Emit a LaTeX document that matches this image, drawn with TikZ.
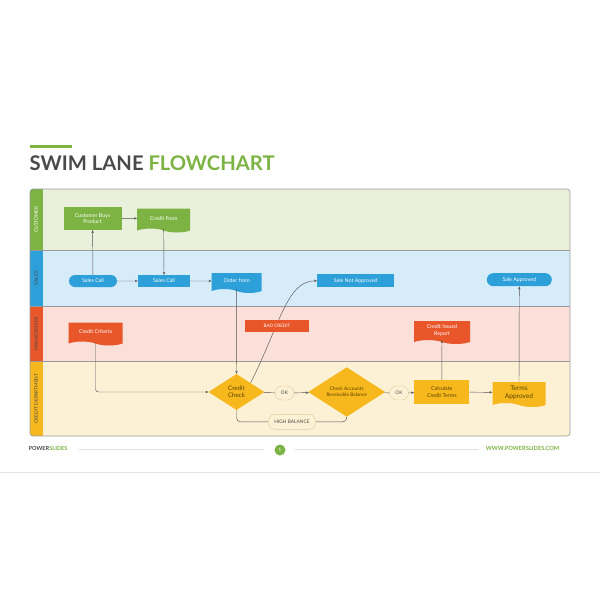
\documentclass[tikz,border=0pt]{standalone}
\usepackage{fontspec}
\setmainfont{Lato}
\usepackage{xcolor}
\usetikzlibrary{arrows.meta,positioning,shapes.geometric,shapes.symbols,shapes.misc}

\definecolor{titlegrey}{HTML}{4A4A4A}
\definecolor{titlegreen}{HTML}{7CB342}
\definecolor{custgreen}{HTML}{7CB342}
\definecolor{custbg}{HTML}{E9F0DC}
\definecolor{salesblue}{HTML}{2D9FD9}
\definecolor{salesbg}{HTML}{D7ECF9}
\definecolor{mgmtred}{HTML}{E8562A}
\definecolor{mgmtbg}{HTML}{FBDFD9}
\definecolor{credyellow}{HTML}{F6B81D}
\definecolor{credbg}{HTML}{FDF1D5}
\definecolor{darktext}{HTML}{5B4400}
\definecolor{lanegrey}{HTML}{9A9A9A}
\definecolor{linkgrey}{HTML}{555555}
\definecolor{pillborder}{HTML}{DCCB9C}
\definecolor{footgrey}{HTML}{E2E2E2}

\newcommand{\boxfont}{\fontsize{5.3}{6.3}\selectfont}
\newcommand{\lanefont}{\fontsize{4.8}{5.5}\selectfont}

\tikzset{
  box/.style={rectangle, inner sep=1pt, align=center, text=white, font=\boxfont},
  docbox/.style={tape, tape bend top=none, tape bend bottom=out and in,
    tape bend height=4pt, inner sep=1pt, align=center, text=white, font=\boxfont},
  stadium/.style={rounded rectangle, inner sep=1pt, align=center, text=white, font=\boxfont},
  decision/.style={diamond, inner sep=0pt, align=center, fill=credyellow,
    text=darktext, font=\fontsize{6.2}{7.2}\selectfont},
  pill/.style={rounded rectangle, draw=pillborder, fill=credbg, inner sep=1pt,
    text=titlegrey, font=\fontsize{4.8}{5.5}\selectfont, minimum height=14pt},
  lanelabel/.style={rotate=90, inner sep=0pt, font=\lanefont},
  flow/.style={->, draw=linkgrey, line width=0.45pt},
  link/.style={draw=linkgrey, line width=0.45pt}
}

\begin{document}
\begin{tikzpicture}[x=1pt, y=-1pt, >={Stealth[length=3pt,width=2.4pt]}]
  \useasboundingbox (0,0) rectangle (600,600);
  \fill[white] (0,0) rectangle (600,600);

  % title
  \draw[titlegreen, line width=2.4pt] (30,146.5) -- (72,146.5);
  \node[anchor=base west, inner sep=0pt, font=\fontsize{20.2}{24}\selectfont\bfseries]
    (title) at (29.5,170) {\textcolor{titlegrey}{SWIM LANE} \textcolor{titlegreen}{FLOWCHART}};

  % lanes
  \begin{scope}
    \clip[rounded corners=3pt] (30,189) rectangle (570,436);
    \fill[custbg] (30,189) rectangle (570,250);
    \fill[salesbg] (30,250) rectangle (570,306.5);
    \fill[mgmtbg] (30,306.5) rectangle (570,361);
    \fill[credbg] (30,361) rectangle (570,436);
    \fill[custgreen] (30,189) rectangle (42.5,250);
    \fill[salesblue] (30,250) rectangle (42.5,306.5);
    \fill[mgmtred] (30,306.5) rectangle (42.5,361);
    \fill[credyellow] (30,361) rectangle (42.5,436);
  \end{scope}
  \draw[lanegrey, line width=0.5pt] (30,250) -- (570,250);
  \draw[lanegrey, line width=0.5pt] (30,306.5) -- (570,306.5);
  \draw[lanegrey, line width=0.5pt] (30,361) -- (570,361);
  \draw[lanegrey, line width=0.6pt, rounded corners=3pt] (30,189) rectangle (570,436);

  \node[lanelabel, text=white] (lcust) at (36.2,219.5) {CUSTOMER};
  \node[lanelabel, text=titlegrey] (lsales) at (36.2,278.2) {SALES};
  \node[lanelabel, text=titlegrey] (lmgmt) at (36.2,333.7) {MANAGEMENT};
  \node[lanelabel, text=titlegrey] (lcred) at (36.2,398.5) {CREDIT DEPARTMENT};

  % customer lane
  \node[box, fill=custgreen, minimum width=58pt, minimum height=23pt] (cbp) at (92.5,218.3)
    {Customer Buys\\Product};
  \node[docbox, fill=custgreen, minimum width=53pt, minimum height=24pt] (cfr) at (163.7,218.5)
    {Credit From};

  % sales lane
  \node[stadium, fill=salesblue, minimum width=50pt, minimum height=12pt] (scs) at (93,281)
    {Sales Call};
  \node[box, fill=salesblue, minimum width=52pt, minimum height=12pt] (scr) at (164,281)
    {Sales Call};
  \node[docbox, fill=salesblue, minimum width=50pt, minimum height=20pt] (ofr) at (236.7,281)
    {Order from};
  \node[box, fill=salesblue, minimum width=77pt, minimum height=13pt] (sna) at (355.7,280.8)
    {Sale Not Approved};
  \node[stadium, fill=salesblue, minimum width=67pt, minimum height=13pt] (sap) at (519.3,279.7)
    {Sale Approved};

  % management lane
  \node[docbox, fill=mgmtred, minimum width=54pt, minimum height=23pt] (ccr) at (95.5,332)
    {Credit Criteria};
  \node[docbox, fill=mgmtred, minimum width=56pt, minimum height=23pt] (cir) at (442,330.5)
    {Credit Issued\\Report};

  % credit department lane
  \node[decision, minimum width=56pt, minimum height=36pt] (cck) at (236.5,392)
    {Credit\\Check};
  \node[pill, minimum width=21pt] (ok1) at (284.5,393) {OK};
  \node[decision, minimum width=77pt, minimum height=46pt, font=\fontsize{4.8}{5.8}\selectfont]
    (car) at (346.7,392) {Check Accounts\\Receivable Balance};
  \node[pill, minimum width=21pt] (ok2) at (399,393) {OK};
  \node[box, fill=credyellow, text=darktext, minimum width=55pt, minimum height=24pt]
    (cct) at (441.8,392) {Calculate\\Credit Terms};
  \node[docbox, fill=credyellow, text=darktext, minimum width=53pt, minimum height=25pt,
    font=\fontsize{6.6}{7.6}\selectfont] (tap) at (519,392.5) {Terms\\Approved};
  \node[pill, minimum width=50pt, minimum height=15pt] (hib) at (292,421.8) {HIGH BALANCE};

  % connectors
  \draw[flow] (scs) -- (cbp);
  \draw[flow] (cbp) -- (cfr);
  \draw[flow] (cfr.south) -- (scr.north);
  \draw[flow] (scs) -- (scr);
  \draw[flow] (scr) -- (ofr);
  \draw[flow] (ofr.south) -- (cck.north);
  \draw[flow, rounded corners=3pt] (ccr.south) |- (cck.west);
  \draw[link] (cck) -- (ok1);
  \draw[flow] (ok1) -- (car);
  \draw[link] (car) -- (ok2);
  \draw[flow] (ok2) -- (cct);
  \draw[flow] (cct) -- (tap);
  \draw[flow] (cct.north) -- (cir.south);
  \draw[flow] (tap.north) -- (sap.south);
  \draw[link, rounded corners=4pt] (cck.south) |- (hib.west);
  \draw[link, rounded corners=4pt] (hib.east) -| (car.south);
  \draw[flow] (cck.north east) .. controls +(30,-60) and +(-30,0) .. (sna.west);

  % label sitting on the curve
  \node[box, fill=mgmtred, minimum width=64pt, minimum height=12pt, font=\fontsize{4.6}{5.5}\selectfont]
    (bad) at (277,326) {BAD CREDIT};

  % footer
  \node[anchor=west, inner sep=0pt, font=\fontsize{5.6}{6.5}\selectfont\bfseries] (brand) at (28.5,448.5)
    {\textcolor{titlegrey}{POWER}\textcolor{titlegreen}{SLIDES}};
  \node[circle, fill=titlegreen, minimum size=11pt, inner sep=0pt, text=white,
    font=\fontsize{4.5}{5}\selectfont] (pgnum) at (280,450) {1};
  \node[anchor=east, inner sep=0pt, text=titlegreen, font=\fontsize{5.7}{6.5}\selectfont\bfseries]
    (url) at (559.5,448.5) {WWW.POWERSLIDES.COM};
  \draw[footgrey, line width=1pt] (78.5,449) -- (264,449);
  \draw[footgrey, line width=1pt] (294.7,449) -- (479,449);
  \draw[footgrey, line width=1.5pt] (0,472.5) -- (600,472.5);
\end{tikzpicture}
\end{document}
